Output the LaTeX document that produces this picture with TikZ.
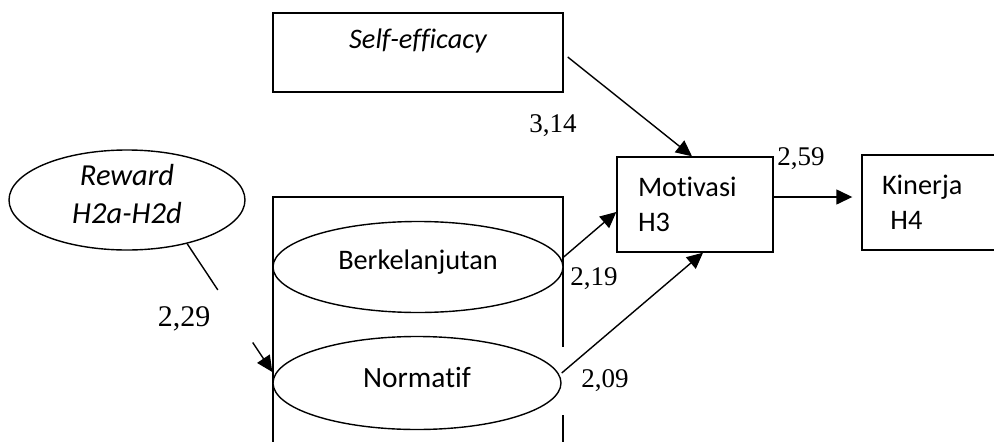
\documentclass[tikz,border=0pt]{standalone}
\usepackage{fontspec}
\setmainfont{Carlito}[Ligatures=NoCommon]
\newfontfamily\numfont{Liberation Serif}
\usetikzlibrary{shapes.geometric,arrows.meta}

\begin{document}
\begin{tikzpicture}[x=1pt,y=-1pt]
	\tikzstyle{Box}		= [rectangle, draw, line width=1.4pt, inner sep=0pt, font=\fontsize{28.3}{35}\selectfont]
	\tikzstyle{Latent}	= [ellipse, draw, line width=1.4pt, inner sep=0pt, fill=white, font=\fontsize{28.3}{35}\selectfont]
	\tikzstyle{Weight}	= [anchor=base, inner sep=0pt, font=\numfont\fontsize{27}{30}\selectfont]
	\tikzstyle{Path}	= [line width=1.4pt, -{Triangle[length=16pt,width=15pt]}]
	\tikzstyle{Frame}	= [line width=1.4pt]

	\useasboundingbox (0,0) rectangle (994,442);
	\clip (0,0) rectangle (994,442);

	% outer frame round the two dimensions
	\draw [Frame] (273,450) -- (273,197) -- (563,197) -- (563,347);
	\draw [Frame] (563,415) -- (563,450);

	\node (self) at (418,52.5) [Box, minimum width=290pt, text height=35pt, text depth=44pt] {\itshape Self-efficacy};
	\node (mot) at (695,204.5) [Box, minimum width=156pt, minimum height=95pt, text width=114pt, align=left] {Motivasi\\H3};
	\node (kin) at (962,202.5) [Box, minimum width=200pt, minimum height=95pt, text width=160pt, align=left] {Kinerja\\\hspace*{0.3em}H4};

	\node (rew) at (127,200) [Latent, minimum width=236pt, minimum height=100pt, align=center, font=\itshape\fontsize{30.5}{38}\selectfont] {Reward\\H2a-H2d\strut};
	\node (berk) at (418,267) [Latent, minimum width=290pt, minimum height=91pt, text height=16pt, text depth=12pt] {Berkelanjutan};
	\node (nor) at (417,383) [Latent, minimum width=288pt, minimum height=93pt, text height=18pt, text depth=10pt, font=\fontsize{29.4}{35}\selectfont] {Normatif};

	% paths
	\draw [Path] ([shift={(4pt,-4.5pt)}]self.east) to ([xshift=-3pt]mot.north);
	\draw [Path] ([yshift=10pt]berk.east) to ([yshift=-7.5pt]mot.west);
	\draw [Path] ([yshift=10pt]nor.east) to ([xshift=8pt]mot.south);
	\draw [Path, shorten >=9pt] ([yshift=7.5pt]mot.east) to ([yshift=7.5pt]mot.east -| kin.west);

	\path (rew.-36) -- ([yshift=11pt]nor.west) coordinate[pos=0.36] (r1) coordinate[pos=0.77] (r2);
	\draw [Frame] (rew.-36) to (r1);
	\draw [Path] (r2) to ([yshift=11pt]nor.west);

	\foreach \n/\x/\y/\t in {w314/553/132/{3,14}, w259/801/165/{2,59}, w219/594/285/{2,19}, w209/605/387/{2,09}}
		\node (\n) at (\x,\y) [Weight] {\t};
	\node (w229) at (184,326) [Weight, font=\numfont\fontsize{30}{34}\selectfont] {2,29};
\end{tikzpicture}
\end{document}
